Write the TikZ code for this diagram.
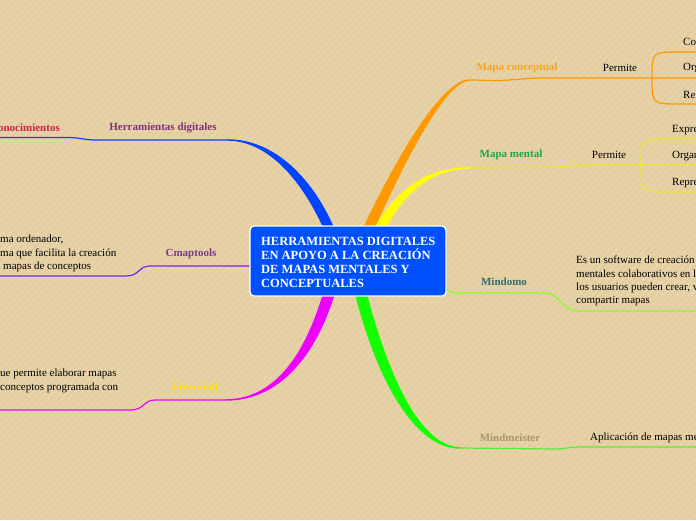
\documentclass[tikz,border=0pt]{standalone}
\usepackage{fontspec}
\setmainfont{Liberation Serif}
\definecolor{bg}{HTML}{E7D2A7}
\definecolor{stripe}{HTML}{DCC69A}
\definecolor{boxblue}{HTML}{0050FF}
\definecolor{cblue}{HTML}{0044FF}
\definecolor{corange}{HTML}{FF9900}
\definecolor{cyellow}{HTML}{FFFF00}
\definecolor{cyelline}{HTML}{F2E82A}
\definecolor{cmagenta}{HTML}{EE00FF}
\definecolor{cgreen}{HTML}{11FF00}
\definecolor{cviolet}{HTML}{7A1FFF}
\definecolor{clime}{HTML}{88FF22}
\definecolor{cmint}{HTML}{55EE33}
\definecolor{tred}{HTML}{CC2244}
\definecolor{tpurple}{HTML}{84307E}
\definecolor{tcmap}{HTML}{7A3A8A}
\definecolor{tfree}{HTML}{FFE400}
\definecolor{torange}{HTML}{F5A623}
\definecolor{tgreen}{HTML}{1AA64A}
\definecolor{tteal}{HTML}{2F6F6F}
\definecolor{ttan}{HTML}{A89570}
\begin{document}
\begin{tikzpicture}[x=1pt,y=-1pt,
  lbl/.style={font=\bfseries\fontsize{11}{13}\selectfont, inner sep=0pt},
  txt/.style={font=\fontsize{11}{13.2}\selectfont, inner sep=0pt, align=left},
  thin/.style={line width=1.2pt, line cap=round},
  centerbox/.style={draw=white, line width=1.4pt, fill=boxblue, rounded corners=4pt}]
\useasboundingbox (0,0) rectangle (696,520);
\fill[bg] (0,0) rectangle (696,520);
\begin{scope}
\clip (0,0) rectangle (696,520);
\foreach \i in {-525,-518,...,700} \draw[stripe, line width=0.4pt] (\i,520) -- (\i+520,0);
\end{scope}

% branch end coordinates
\coordinate (bEnd) at (228,140);
\coordinate (oEnd) at (470,80);
\coordinate (yEnd) at (470,168);
\coordinate (mEnd) at (225,400);
\coordinate (gEnd) at (460,448);

% tapered main branches
\fill[cblue] (325,232) .. controls (300,175) and (265,141) .. (228,140.7) -- (228,139.3) .. controls (268,139) and (310,170) .. (336,232) -- cycle;
\fill[corange] (361,232) .. controls (400,150) and (443,79.3) .. (470,79.3) -- (470,80.7) .. controls (447,81) and (410,150) .. (373,232) -- cycle;
\fill[cyellow] (372,232) .. controls (396,188) and (428,167.3) .. (470,167.3) -- (470,168.7) .. controls (432,169) and (404,192) .. (384,232) -- cycle;
\fill[cmagenta] (324,290) .. controls (308,345) and (280,399.3) .. (225,399.3) -- (225,400.7) .. controls (286,401) and (320,345) .. (336,290) -- cycle;
\fill[cgreen] (354,290) .. controls (374,372) and (412,448.7) .. (460,448.7) -- (460,447.3) .. controls (418,446) and (386,368) .. (366,290) -- cycle;

% labels
\node[lbl, text=tpurple] (herr) at (163,128) {Herramientas digitales};
\node[lbl, text=tred, anchor=east] (cono) at (60,128) {Conocimientos};
\node[lbl, text=tcmap] (cmap) at (191,254) {Cmaptools};
\node[lbl, text=tfree] (free) at (195,387) {Freemind};
\node[lbl, text=torange] (mcon) at (517,68) {Mapa conceptual};
\node[lbl, text=tgreen] (mmen) at (511,155) {Mapa mental};
\node[lbl, text=tteal] (mdomo) at (504,282) {Mindomo};
\node[lbl, text=ttan] (mmeis) at (510,438) {Mindmeister};

% plain texts
\node[txt, anchor=center] (perm1) at (620,68) {Permite};
\node[txt, anchor=center] (perm2) at (609,155) {Permite};
\node[txt, anchor=west] (co) at (683,42) {Co};
\node[txt, anchor=west] (org) at (683,68) {Org};
\node[txt, anchor=west] (re) at (683,95) {Re};
\node[txt, anchor=west] (expre) at (672,130) {Expre};
\node[txt, anchor=west] (organ) at (672,156) {Organ};
\node[txt, anchor=west] (repre) at (672,183) {Repre};
\node[txt, anchor=north west] (domotxt) at (576,256) {Es un software de creación\\mentales colaborativos en l\\los usuarios pueden crear, v\\compartir mapas};
\node[txt, anchor=west] (meistxt) at (590,438) {Aplicación de mapas me};
\node[txt, anchor=north west] (cmaptxt) at (0,235) {ma ordenador,\\ma que facilita la creación\\\hspace{3pt}mapas de conceptos};
\node[txt, anchor=north west] (freetxt) at (0,369) {ue permite elaborar mapas\\conceptos programada con};

% connector coordinates
\coordinate (lEdge1) at (0,137.5);
\coordinate (lEdge2) at (0,276);
\coordinate (lEdge3) at (0,410);
\coordinate (rO) at (696,78);
\coordinate (rOt) at (696,52);
\coordinate (rOb) at (696,104);
\coordinate (rY) at (696,165);
\coordinate (rYt) at (696,139);
\coordinate (rYb) at (696,192);
\coordinate (rD) at (696,311);
\coordinate (rM) at (696,447);
\coordinate (oBr) at (652,78);
\coordinate (yBr) at (641,165);
\coordinate (cStart) at (250,266);
\coordinate (dStart) at (446,289);

% thin connectors
\draw[thin, cblue] (bEnd) -- (96,140) .. controls (84,140) and (80,137.5) .. (68,137.5) -- (lEdge1);
\draw[thin, cviolet] (cStart) -- (150,266) .. controls (138,266) and (140,276) .. (126,276) -- (lEdge2);
\draw[thin, cmagenta] (mEnd) -- (155,400) .. controls (143,400) and (145,410) .. (130,410) -- (lEdge3);
\draw[thin, corange] (oEnd) -- (495,80.5) .. controls (515,80.5) and (520,78) .. (545,78) -- (oBr) -- (rO);
\draw[thin, corange] (oBr) .. controls (652,52) .. (680,52) -- (rOt);
\draw[thin, corange] (oBr) .. controls (652,104) .. (680,104) -- (rOb);
\draw[thin, cyelline] (yEnd) -- (545,167.5) .. controls (565,167.5) and (568,165) .. (590,165) -- (yBr) -- (rY);
\draw[thin, cyelline] (yBr) .. controls (641,139) .. (669,139) -- (rYt);
\draw[thin, cyelline] (yBr) .. controls (641,192) .. (669,192) -- (rYb);
\draw[thin, clime] (dStart) .. controls (452,293) .. (465,293) -- (545,293) .. controls (560,293) and (562,311) .. (578,311) -- (rD);
\draw[thin, cmint] (gEnd) -- (555,449) .. controls (565,449) and (568,447) .. (580,447) -- (rM);

% central node, above the branch roots
\node[centerbox, minimum width=196pt, minimum height=70pt, inner sep=0pt] (root) at (348,261) {};
\node[font=\bfseries\fontsize{12.5}{14}\selectfont, text=white, align=left, inner sep=0pt, anchor=west] (roottext) at (261,262)
  {HERRAMIENTAS DIGITALES\\EN APOYO A LA CREACIÓN\\DE MAPAS MENTALES Y\\CONCEPTUALES};
\end{tikzpicture}
\end{document}
